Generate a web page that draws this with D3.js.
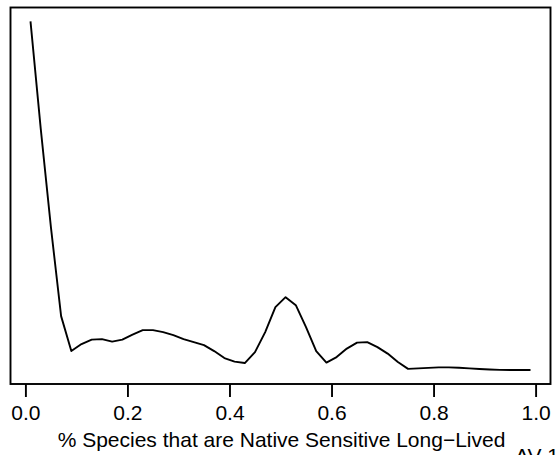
<!DOCTYPE html>
<html>
<head>
<meta charset="utf-8">
<script src="https://cdn.jsdelivr.net/npm/d3@7"></script>
<style>
  html, body { margin: 0; padding: 0; background: #fff; }
  svg { display: block; }
  text { font-family: "Liberation Sans", Arial, Helvetica, sans-serif; fill: #000; }
</style>
</head>
<body>
<svg id="chart" width="559" height="455"></svg>
<script>
// Data: density of % species that are native sensitive long-lived
const xValues = [0.01,0.03,0.05,0.07,0.09,0.11,0.13,0.15,0.17,0.19,
                 0.21,0.23,0.25,0.27,0.29,0.31,0.33,0.35,0.37,0.39,
                 0.41,0.43,0.45,0.47,0.49,0.51,0.53,0.55,0.57,0.59,
                 0.61,0.63,0.65,0.67,0.69,0.71,0.73,0.75,0.77,0.79,
                 0.81,0.83,0.85,0.87,0.89,0.91,0.93,0.95,0.97,0.99];
const densityValues = [6.99,4.85,2.87,1.09,0.39,0.53,0.62,0.63,0.58,0.62,
                       0.72,0.81,0.81,0.77,0.71,0.63,0.57,0.51,0.39,0.25,
                       0.18,0.15,0.37,0.77,1.27,1.47,1.31,0.87,0.39,0.16,
                       0.27,0.44,0.56,0.57,0.47,0.34,0.17,0.034,0.044,0.054,
                       0.064,0.064,0.056,0.044,0.030,0.020,0.014,0.010,0.010,0.010];
const xTicks = [0.0, 0.2, 0.4, 0.6, 0.8, 1.0];
const xTickLabels = ["0.0", "0.2", "0.4", "0.6", "0.8", "1.0"];
const xTitle = "% Species that are Native Sensitive Long\u2212Lived";
const cornerLabel = "AV 1";

const svg = d3.select("#chart");
const box = {left: 10.5, right: 550.5, top: 7.5, bottom: 384};

const xMin = d3.min(xValues), xMax = d3.max(xValues);
const xPad = 0.04 * (xMax - xMin);
const x = d3.scaleLinear().domain([xMin - xPad, xMax + xPad]).range([box.left, box.right]);

const yMin = d3.min(densityValues), yMax = d3.max(densityValues);
const yPad = 0.04 * (yMax - yMin);
const y = d3.scaleLinear().domain([yMin - yPad, yMax + yPad]).range([box.bottom, box.top]);

const pts = xValues.map((d, i) => [d, densityValues[i]]);

svg.append("path")
  .datum(pts)
  .attr("fill", "none")
  .attr("stroke", "#000")
  .attr("stroke-width", 1.9)
  .attr("stroke-linejoin", "round")
  .attr("d", d3.line().x(d => x(d[0])).y(d => y(d[1])));

// plot box
svg.append("rect")
  .attr("x", box.left).attr("y", box.top)
  .attr("width", box.right - box.left).attr("height", box.bottom - box.top)
  .attr("fill", "none").attr("stroke", "#000").attr("stroke-width", 1.9);

// x axis
const axis = d3.axisBottom(x).tickValues(xTicks)
  .tickFormat((d, i) => xTickLabels[i]).tickSize(13).tickPadding(8).tickSizeOuter(0);
const gx = svg.append("g").attr("transform", `translate(0,${box.bottom})`).call(axis);
gx.select(".domain").remove();
gx.selectAll(".tick line").attr("stroke", "#000").attr("stroke-width", 1.9);
gx.selectAll(".tick text")
  .attr("font-family", "Liberation Sans, Arial, sans-serif")
  .attr("font-size", 21).attr("fill", "#000")
  .attr("dy", null).attr("y", 35.5);

svg.append("text")
  .attr("x", (box.left + box.right) / 2 + 1).attr("y", 447)
  .attr("text-anchor", "middle").attr("font-size", 21)
  .text(xTitle);

svg.append("text")
  .attr("x", 515).attr("y", 463)
  .attr("font-size", 21)
  .text(cornerLabel);
</script>
</body>
</html>
